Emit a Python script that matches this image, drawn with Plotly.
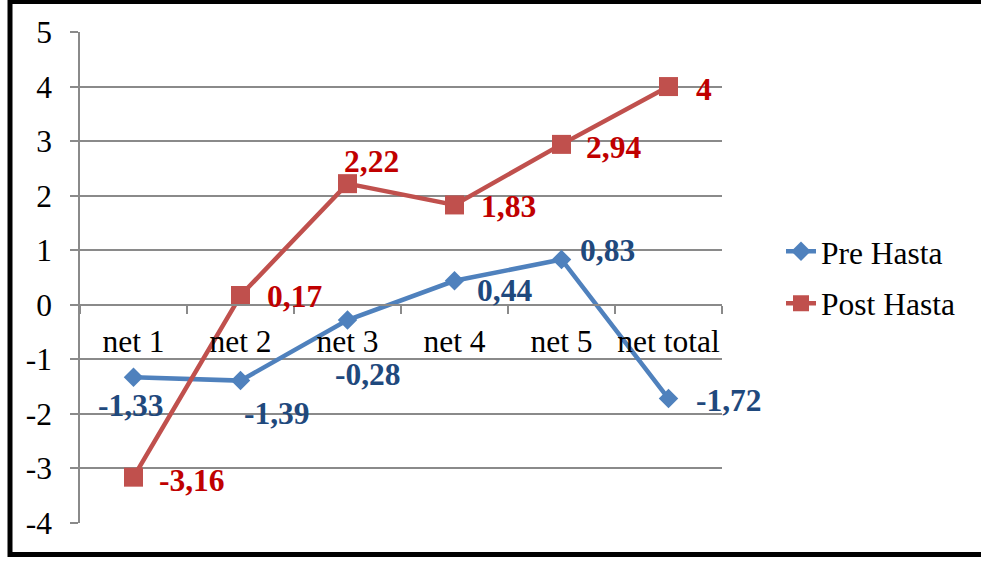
import plotly.graph_objects as go

# Category labels and series values
categories = ["net 1", "net 2", "net 3", "net 4", "net 5", "net total"]
pre_hasta = [-1.33, -1.39, -0.28, 0.44, 0.83, -1.72]
post_hasta = [-3.16, 0.17, 2.22, 1.83, 2.94, 4]
y_ticks = [-4, -3, -2, -1, 0, 1, 2, 3, 4, 5]

# Pixel offsets (dx, dy) of each value label from its marker
pre_label_offsets = [(-3, 28), (36, 33), (20, 54), (50, 10), (46, -9), (60, 2)]
post_label_offsets = [(58, 3), (54, 1), (24, -22), (54, 2), (52, 3), (35, 3)]

BLUE = "#4F81BD"
RED = "#C0504D"
BLUE_TXT = "#1F497D"
RED_TXT = "#C00000"
GRID = "#8A8A8A"
FONT = "'Liberation Serif', 'Times New Roman', serif"
FS = 31.5


def fmt(v):
    return f"{v:g}".replace(".", ",")


fig = go.Figure()
fig.add_trace(go.Scatter(
    x=categories, y=pre_hasta, name="Pre Hasta", mode="lines+markers",
    line=dict(color=BLUE, width=4.5),
    marker=dict(symbol="diamond", size=15, color=BLUE),
    legendgroup="pre",
))
fig.add_trace(go.Scatter(
    x=categories, y=post_hasta, name="Post Hasta", mode="lines+markers",
    line=dict(color=RED, width=4.5),
    marker=dict(symbol="square", size=19, color=RED),
    legendgroup="post",
))

annotations = []
for vals, offs, col in ((pre_hasta, pre_label_offsets, BLUE_TXT),
                        (post_hasta, post_label_offsets, RED_TXT)):
    for cat, v, (dx, dy) in zip(categories, vals, offs):
        annotations.append(dict(
            x=cat, y=v, xref="x", yref="y", text=f"<b>{fmt(v)}</b>",
            showarrow=False, xanchor="center", yanchor="middle",
            xshift=dx, yshift=-dy,
            font=dict(family=FONT, size=FS, color=col),
        ))

# plot-area edges in pixels
L, R, T, B = 80, 722, 32, 523.5
def px_x(p):
    return (p - L) / (R - L)
def px_y(p):
    return (B - p) / (B - T)

fig.update_layout(
    width=981, height=561,
    margin=dict(l=L, r=981 - R, t=T, b=561 - B),
    paper_bgcolor="white", plot_bgcolor="white",
    font=dict(family=FONT, size=FS, color="black"),
    showlegend=True,
    legend=dict(
        x=px_x(781), y=px_y(277.5), xanchor="left", yanchor="middle",
        font=dict(family=FONT, size=FS, color="black"),
        tracegroupgap=8, bgcolor="rgba(0,0,0,0)",
    ),
    annotations=annotations,
    shapes=[dict(
        type="rect", xref="paper", yref="paper",
        x0=px_x(10), x1=px_x(990), y0=px_y(555), y1=px_y(1.5),
        line=dict(color="black", width=5), fillcolor="rgba(0,0,0,0)",
        layer="above",
    )],
)

fig.update_yaxes(
    range=[-4, 5], tickvals=y_ticks, ticktext=[str(t) for t in y_ticks],
    showgrid=True, gridcolor=GRID, gridwidth=1.5,
    zeroline=False, showline=True, linecolor=GRID, linewidth=1.5,
    ticks="outside", ticklen=8, tickcolor=GRID, tickwidth=1.5,
    ticklabelstandoff=12,
    tickfont=dict(family=FONT, size=FS, color="black"),
)
fig.update_xaxes(
    type="category", range=[-0.5, len(categories) - 0.5],
    anchor="free", position=4 / 9, tickangle=0,
    showgrid=False, zeroline=False, showline=True, linecolor=GRID, linewidth=1.5,
    ticks="outside", ticklen=8, tickcolor=GRID, tickwidth=1.5,
    tickson="boundaries", ticklabelstandoff=9,
    tickfont=dict(family=FONT, size=FS, color="black"),
)

fig.write_html("out.html")
